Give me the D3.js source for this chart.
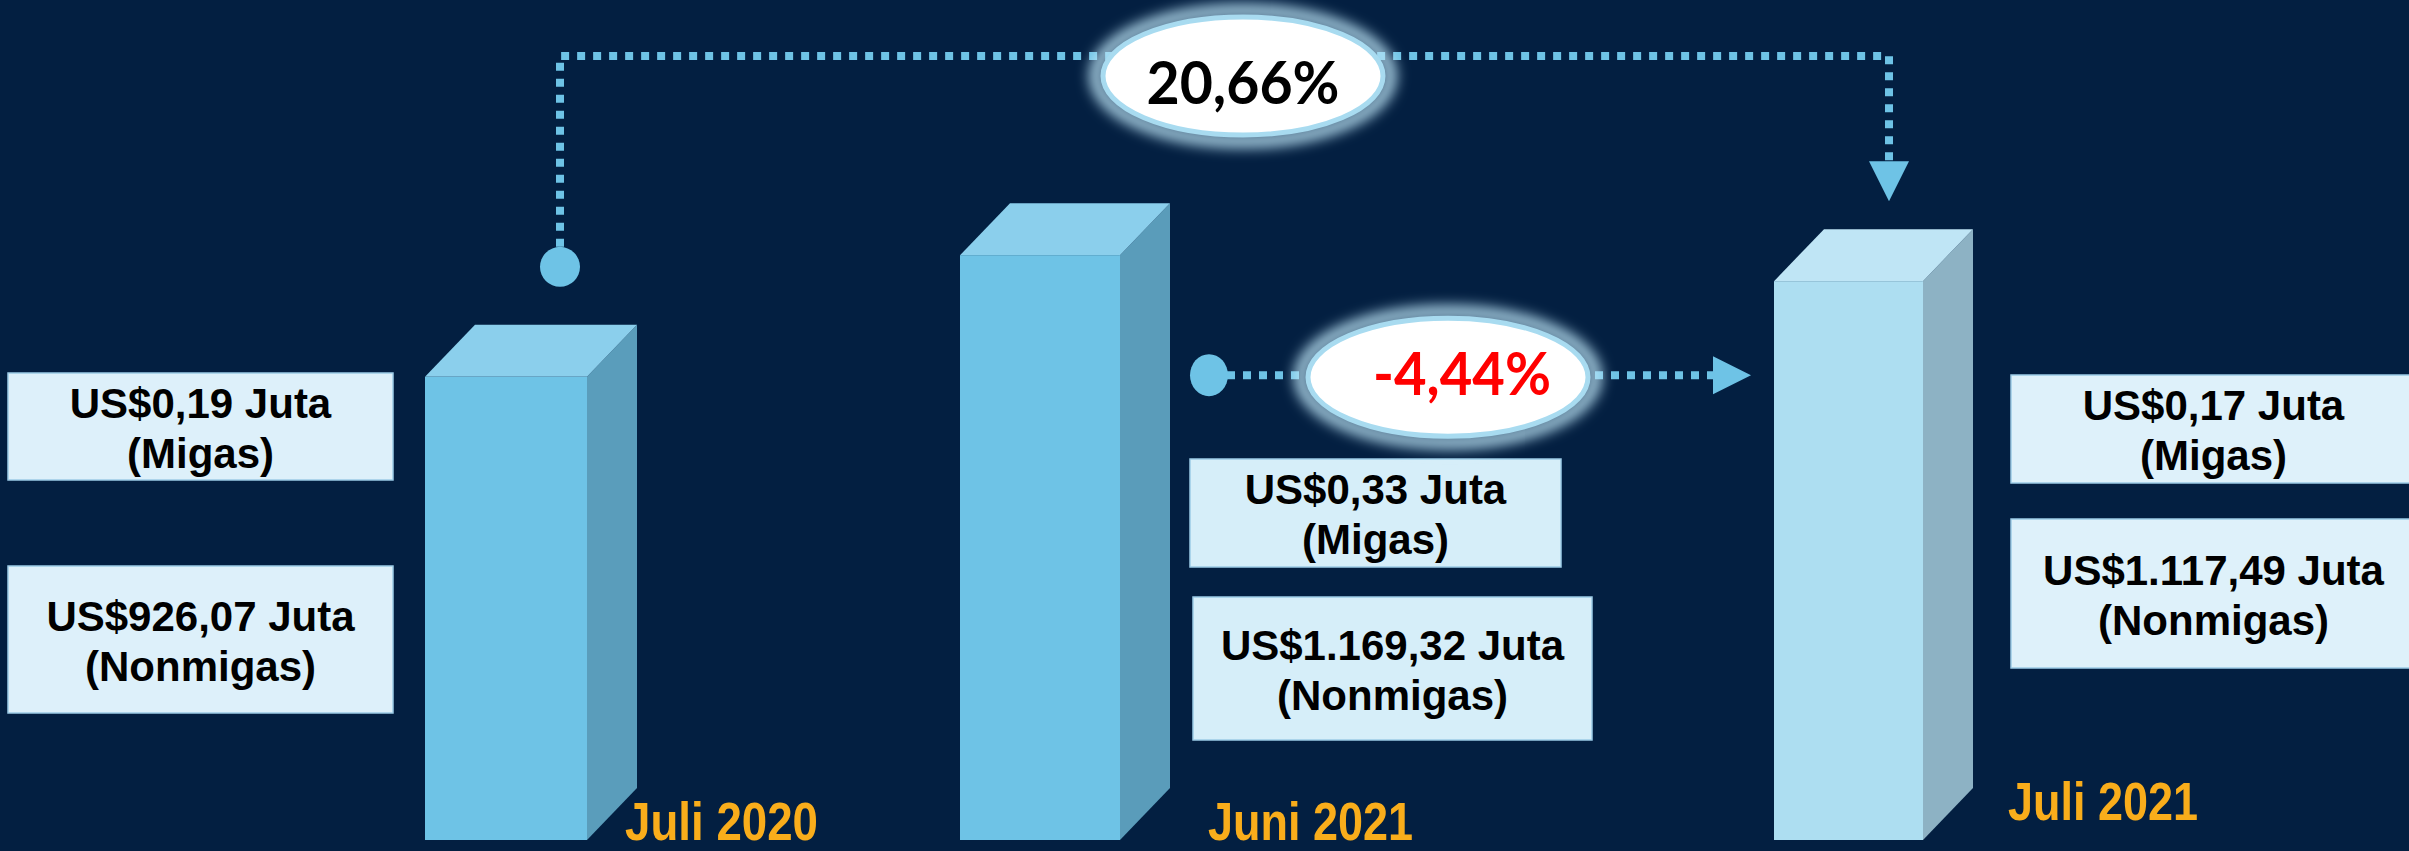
<!DOCTYPE html>
<html>
<head>
<meta charset="utf-8">
<script src="https://cdn.jsdelivr.net/npm/d3@7"></script>
<style>
  html, body { margin: 0; padding: 0; background: #031f41; }
  svg { display: block; }
</style>
</head>
<body>
<svg id="chart"></svg>
<script>
// data
var months = ["Juli 2020", "Juni 2021", "Juli 2021"];
var migas = [0.19, 0.33, 0.17];
var nonmigas = [926.07, 1169.32, 1117.49];
var changeFrom = ["Juli 2020", "Juni 2021"];
var changeTo = ["Juli 2021", "Juli 2021"];
var changePct = [20.66, -4.44];

var W = 2409, H = 851;
var svg = d3.select("#chart").attr("width", W).attr("height", H);
svg.append("rect").attr("width", W).attr("height", H).attr("fill", "#031f41");

var id = d3.formatLocale({decimal: ",", thousands: ".", grouping: [3], currency: ["US$", ""], minus: "-"});
var fmtUsd = id.format("$,.2f"), fmtPct = id.format(".2f");

var rows = months.map(function (m, i) {
    return {month: m, migas: migas[i], nonmigas: nonmigas[i], total: migas[i] + nonmigas[i]};
});

// scales
var x = d3.scaleOrdinal().domain(months).range([425, 960, 1774]);
var bw = d3.scaleOrdinal().domain(months).range([162, 160, 149]);
var y = d3.scaleLinear().domain([0, 1200]).range([840, 240]);
var face = d3.scaleOrdinal().domain(months).range([
    {front: "#6ec3e6", top: "#8bcfec", side: "#5a9dbb"},
    {front: "#6ec3e6", top: "#8bcfec", side: "#5a9cba"},
    {front: "#addef1", top: "#bfe5f5", side: "#8db2c4"}
]);
var dx = 50, dy = 52;

// 3d bars
var bars = svg.selectAll(".bar").data(rows).enter().append("g").attr("class", "bar");
bars.append("polygon")
    .attr("fill", function (d) { return face(d.month).side; })
    .attr("points", function (d) {
        var x1 = x(d.month) + bw(d.month), t = y(d.total), b = y(0);
        return [[x1, t], [x1 + dx, t - dy], [x1 + dx, b - dy], [x1, b]].join(" ");
    });
bars.append("polygon")
    .attr("fill", function (d) { return face(d.month).top; })
    .attr("points", function (d) {
        var x0 = x(d.month), x1 = x0 + bw(d.month), t = y(d.total);
        return [[x0, t], [x0 + dx, t - dy], [x1 + dx, t - dy], [x1, t]].join(" ");
    });
bars.append("rect")
    .attr("fill", function (d) { return face(d.month).front; })
    .attr("x", function (d) { return x(d.month); })
    .attr("y", function (d) { return y(d.total); })
    .attr("width", function (d) { return bw(d.month); })
    .attr("height", function (d) { return y(0) - y(d.total); });

// month labels
var monthPos = {"Juli 2020": [625, 840, 193], "Juni 2021": [1208, 840, 205], "Juli 2021": [2008, 820, 190]};
svg.selectAll(".month").data(rows).enter().append("text")
    .attr("x", function (d) { return monthPos[d.month][0]; })
    .attr("y", function (d) { return monthPos[d.month][1]; })
    .attr("textLength", function (d) { return monthPos[d.month][2]; })
    .attr("lengthAdjust", "spacingAndGlyphs")
    .attr("font-family", "Liberation Sans, Arial, sans-serif")
    .attr("font-weight", "bold").attr("font-size", 54)
    .attr("fill", "#f9ad1b")
    .text(function (d) { return d.month; });

// value boxes (x0, y0, x1, y1)
var boxPos = {
    "Juli 2020": {migas: [8, 373, 393, 480], nonmigas: [8, 566, 393, 713], fill: "#ddf0fa"},
    "Juni 2021": {migas: [1190, 459, 1561, 567], nonmigas: [1193, 597, 1592, 740], fill: "#d6eef9"},
    "Juli 2021": {migas: [2011, 375, 2416, 483], nonmigas: [2011, 519, 2416, 668], fill: "#def1fa"}
};
var boxes = [];
rows.forEach(function (d) {
    boxes.push({month: d.month, r: boxPos[d.month].migas, value: d.migas, kind: "(Migas)"});
    boxes.push({month: d.month, r: boxPos[d.month].nonmigas, value: d.nonmigas, kind: "(Nonmigas)"});
});
var bx = svg.selectAll(".box").data(boxes).enter().append("g").attr("class", "box");
bx.append("rect")
    .attr("x", function (d) { return d.r[0]; })
    .attr("y", function (d) { return d.r[1]; })
    .attr("width", function (d) { return d.r[2] - d.r[0]; })
    .attr("height", function (d) { return d.r[3] - d.r[1]; })
    .attr("fill", function (d) { return boxPos[d.month].fill; })
    .attr("stroke", "#9ccbe6").attr("stroke-width", 1.5);
var bt = bx.append("text")
    .attr("text-anchor", "middle")
    .attr("font-family", "Liberation Sans, Arial, sans-serif")
    .attr("font-weight", "bold").attr("font-size", 42).attr("fill", "#000");
bt.append("tspan")
    .attr("x", function (d) { return (d.r[0] + d.r[2]) / 2; })
    .attr("y", function (d) { return (d.r[1] + d.r[3]) / 2 - 9; })
    .text(function (d) { return fmtUsd(d.value) + " Juta"; });
bt.append("tspan")
    .attr("x", function (d) { return (d.r[0] + d.r[2]) / 2; })
    .attr("y", function (d) { return (d.r[1] + d.r[3]) / 2 + 41; })
    .text(function (d) { return d.kind; });

// glow for the percentage bubbles
var defs = svg.append("defs");
defs.append("filter").attr("id", "glow").attr("x", "-30%").attr("y", "-50%").attr("width", "160%").attr("height", "200%")
    .append("feGaussianBlur").attr("stdDeviation", 7);

var lineColor = "#6ec3e6";
var byMonth = {};
rows.forEach(function (d) { byMonth[d.month] = d; });

// connectors
var conn = changePct.map(function (p, i) { return {from: changeFrom[i], to: changeTo[i], pct: p}; });

// Juli 2020 -> Juli 2021 (over the top)
var c0 = conn[0];
var sx = x(c0.from) + 135, sy = y(byMonth[c0.from].total) - 110;
var ex = x(c0.to) + 115, ey = y(byMonth[c0.to].total) - 80;
var topY = 56;
svg.append("path")
    .attr("d", "M" + sx + "," + (sy - 20) + "V" + topY + "H" + ex + "V" + (ey - 40))
    .attr("fill", "none").attr("stroke", lineColor).attr("stroke-width", 8)
    .attr("stroke-dasharray", "8,8");
svg.append("circle").attr("cx", sx).attr("cy", sy).attr("r", 20).attr("fill", lineColor);
svg.append("polygon").attr("fill", lineColor)
    .attr("points", [[ex - 20, ey - 40], [ex + 20, ey - 40], [ex, ey]].join(" "));

// Juni 2021 -> Juli 2021 (straight across)
var c1 = conn[1];
var lx = x(c1.from) + bw(c1.from) + 89, ly = y(byMonth[c1.from].total) + 120;
var tx = x(c1.to) - 23;
svg.append("path")
    .attr("d", "M" + (lx + 18) + "," + ly + "H" + (tx - 38))
    .attr("fill", "none").attr("stroke", lineColor).attr("stroke-width", 8)
    .attr("stroke-dasharray", "8,8");
svg.append("ellipse").attr("cx", lx).attr("cy", ly).attr("rx", 19).attr("ry", 21).attr("fill", lineColor);
svg.append("polygon").attr("fill", lineColor)
    .attr("points", [[tx - 38, ly - 19], [tx, ly], [tx - 38, ly + 19]].join(" "));

// bubbles
var bubbles = [
    {c: c0, cx: 1243, cy: 76, tx: 1243, ty: 104, tl: 193, color: "#000"},
    {c: c1, cx: 1448, cy: ly + 2, tx: 1462, ty: ly + 20, tl: 178, color: "#ff0000"}
];
var bg = svg.selectAll(".bubble").data(bubbles).enter().append("g").attr("class", "bubble");
bg.append("ellipse")
    .attr("cx", function (d) { return d.cx; }).attr("cy", function (d) { return d.cy; })
    .attr("rx", 147).attr("ry", 65)
    .attr("fill", "none").attr("stroke", "#bfe7f8").attr("stroke-width", 12)
    .attr("filter", "url(#glow)");
bg.append("ellipse")
    .attr("cx", function (d) { return d.cx; }).attr("cy", function (d) { return d.cy; })
    .attr("rx", 140).attr("ry", 59)
    .attr("fill", "#fff").attr("stroke", "#a8dbf0").attr("stroke-width", 5);
bg.append("text")
    .attr("x", function (d) { return d.tx; }).attr("y", function (d) { return d.ty; })
    .attr("text-anchor", "middle")
    .attr("textLength", function (d) { return d.tl; })
    .attr("lengthAdjust", "spacingAndGlyphs")
    .attr("font-family", "Lato, 'Open Sans', sans-serif")
    .attr("font-weight", "bold").attr("font-size", 60)
    .attr("fill", function (d) { return d.color; })
    .text(function (d) { return fmtPct(d.c.pct) + "%"; });
</script>
</body>
</html>
